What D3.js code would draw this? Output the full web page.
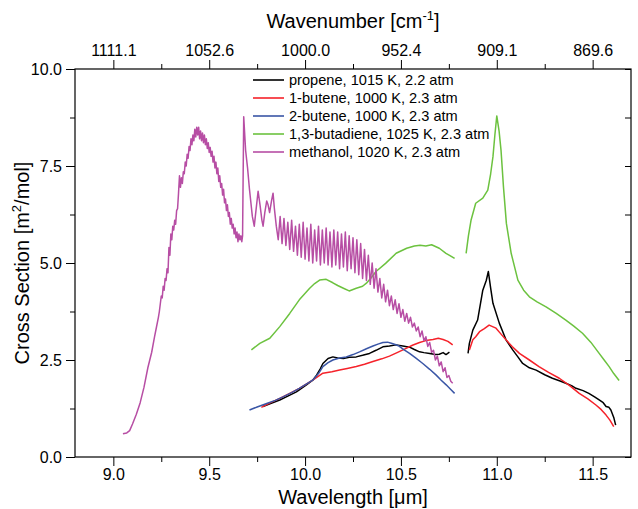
<!DOCTYPE html>
<html>
<head>
<meta charset="utf-8">
<script src="https://cdn.jsdelivr.net/npm/d3@7"></script>
<style>
  body { margin: 0; background: #fff; }
  text { font-family: "Liberation Sans", Arial, sans-serif; fill: #000; }
</style>
</head>
<body>
<div id="chart"></div>
<script>
// wavelength [um], cross section [m2/mol]
var propene = [
  [9.78,1.30],[9.82,1.38],[9.868,1.47],[9.91,1.57],[9.955,1.68],[10.007,1.86],[10.04,1.98],[10.06,2.11],
  [10.08,2.28],[10.093,2.41],[10.12,2.54],[10.145,2.58],[10.17,2.55],[10.2,2.54],[10.23,2.57],[10.267,2.58],
  [10.30,2.62],[10.336,2.67],[10.37,2.75],[10.406,2.84],[10.44,2.86],[10.475,2.89],[10.51,2.86],[10.545,2.83],
  [10.57,2.77],[10.597,2.71],[10.62,2.69],[10.65,2.67],[10.68,2.64],[10.70,2.65],[10.72,2.69],[10.735,2.64],[10.753,2.70]
];
var propeneB = [
  [10.85,2.67],[10.857,2.93],[10.875,3.27],[10.90,3.53],[10.927,4.30],[10.945,4.55],[10.956,4.78],[10.968,4.35],
  [10.98,3.96],[11.013,3.45],[11.048,3.02],[11.083,2.76],[11.11,2.58],[11.135,2.41],[11.17,2.30],[11.205,2.24],
  [11.25,2.12],[11.29,2.03],[11.33,1.96],[11.36,1.90],[11.39,1.84],[11.413,1.77],[11.45,1.71],[11.48,1.64],
  [11.51,1.55],[11.534,1.47],[11.555,1.40],[11.57,1.30],[11.585,1.28],[11.595,1.21],[11.61,1.02],[11.62,0.82]
];
var butene1 = [
  [9.772,1.28],[9.82,1.40],[9.868,1.51],[9.92,1.64],[9.97,1.77],[10.04,1.98],[10.093,2.16],[10.14,2.20],
  [10.18,2.24],[10.22,2.28],[10.267,2.33],[10.31,2.39],[10.354,2.46],[10.40,2.53],[10.44,2.60],[10.48,2.69],
  [10.527,2.80],[10.56,2.88],[10.597,2.95],[10.63,3.00],[10.667,3.03],[10.695,3.06],[10.72,3.03],[10.745,2.98],[10.77,2.89]
];
var butene1B = [
  [10.857,2.76],[10.875,3.02],[10.89,3.10],[10.91,3.23],[10.935,3.31],[10.96,3.40],[10.996,3.32],[11.02,3.18],
  [11.048,3.02],[11.08,2.85],[11.118,2.67],[11.17,2.50],[11.22,2.33],[11.27,2.18],[11.326,2.03],[11.38,1.84],
  [11.43,1.64],[11.475,1.50],[11.517,1.34],[11.545,1.22],[11.57,1.08],[11.59,0.95],[11.61,0.78]
];
var butene2 = [
  [9.71,1.21],[9.75,1.29],[9.80,1.38],[9.845,1.46],[9.885,1.55],[9.93,1.66],[9.97,1.77],[10.04,1.98],
  [10.07,2.15],[10.093,2.33],[10.12,2.43],[10.145,2.50],[10.18,2.55],[10.215,2.58],[10.25,2.64],[10.284,2.71],
  [10.32,2.79],[10.354,2.86],[10.38,2.91],[10.406,2.95],[10.43,2.96],[10.45,2.93],[10.47,2.90],[10.49,2.86],
  [10.515,2.77],[10.545,2.67],[10.58,2.54],[10.614,2.41],[10.65,2.26],[10.684,2.11],[10.71,1.98],[10.736,1.86],
  [10.76,1.74],[10.78,1.64]
];
var butadiene = [
  [9.72,2.76],[9.764,2.93],[9.816,3.06],[9.868,3.36],[9.92,3.70],[9.97,4.05],[10.024,4.35],[10.05,4.47],
  [10.076,4.56],[10.11,4.58],[10.145,4.49],[10.17,4.42],[10.20,4.35],[10.23,4.28],[10.267,4.35],[10.30,4.40],
  [10.32,4.48],[10.345,4.62],[10.37,4.78],[10.42,4.99],[10.475,5.25],[10.53,5.38],[10.57,5.44],[10.60,5.46],
  [10.63,5.44],[10.66,5.47],[10.70,5.38],[10.735,5.25],[10.78,5.12]
];
var butadieneB = [
  [10.84,5.25],[10.852,5.70],[10.866,6.11],[10.89,6.54],[10.927,6.67],[10.953,6.88],[10.968,7.30],[10.98,7.74],
  [10.99,8.30],[11.0,8.79],[11.012,8.40],[11.022,7.91],[11.035,6.95],[11.05,6.02],[11.075,5.25],[11.11,4.56],
  [11.14,4.30],[11.17,4.13],[11.21,4.00],[11.257,3.87],[11.31,3.70],[11.36,3.53],[11.40,3.38],[11.447,3.19],
  [11.49,2.96],[11.534,2.67],[11.56,2.50],[11.586,2.33],[11.61,2.15],[11.638,1.97]
];
var methanol = [
  [9.05,0.6],[9.07,0.62],[9.085,0.68],[9.10,0.85],[9.12,1.1],[9.14,1.4],[9.16,1.8],[9.18,2.3],[9.20,2.7],
  [9.215,3.1],[9.225,3.35],[9.235,3.6],[9.24,3.75],[9.245,3.95],[9.25,4.15],[9.255,4.1],[9.26,4.4],[9.265,4.3],
  [9.27,4.6],[9.275,4.55],[9.28,4.85],[9.285,4.75],[9.29,5.4],[9.295,5.2],[9.30,5.75],[9.305,5.6],[9.31,5.95],
  [9.315,5.85],[9.32,6.1],[9.325,6.0],[9.33,6.35],[9.335,6.4],[9.34,6.8],[9.345,7.25],[9.35,6.95],[9.355,7.2],
  [9.36,7.05],[9.365,7.35],[9.37,7.3],[9.375,7.6],[9.38,7.5],[9.385,7.8],[9.39,7.7],[9.395,8.0],[9.40,7.9],
  [9.405,8.2],[9.41,8.05],[9.415,8.3],[9.42,8.15],[9.425,8.45],[9.43,8.25],[9.435,8.5],[9.44,8.3],[9.445,8.5],
  [9.45,8.2],[9.455,8.4],[9.46,8.15],[9.465,8.35],[9.47,8.1],[9.475,8.3],[9.48,8.05],[9.485,8.2],[9.49,7.95],
  [9.495,8.1],[9.50,7.85],[9.505,7.98],[9.51,7.75],[9.515,7.88],[9.52,7.6],[9.525,7.75],[9.53,7.45],[9.535,7.6],
  [9.54,7.3],[9.545,7.45],[9.55,7.1],[9.555,7.25],[9.56,6.95],[9.565,7.05],[9.57,6.75],[9.575,6.9],[9.58,6.55],
  [9.585,6.65],[9.59,6.35],[9.595,6.5],[9.60,6.2],[9.605,6.3],[9.61,6.0],[9.615,6.15],[9.62,5.9],[9.625,6.0],
  [9.63,5.75],[9.635,5.9],[9.64,5.65],[9.645,5.8],[9.65,5.55],[9.655,5.75],[9.66,5.6],[9.665,5.7],[9.67,5.55],
  [9.674,5.7],[9.68,8.77],[9.69,7.9],[9.70,7.45],[9.71,6.9],[9.725,6.2],[9.735,5.95],[9.745,6.4],[9.755,6.85],
  [9.765,6.5],[9.775,6.1],[9.781,5.95],[9.79,6.3],[9.80,6.6],[9.807,6.5],[9.815,6.3],[9.825,6.6],[9.833,6.8],
  [9.84,6.4],[9.85,5.95],
  [9.86,5.6],[9.87,6.2],[9.88,5.5],[9.89,6.15],[9.90,5.45],[9.91,6.05],[9.92,5.35],[9.93,6.1],[9.94,5.3],
  [9.95,5.95],[9.96,5.2],[9.97,6.0],[9.98,5.15],[9.99,6.05],[10.00,5.1],[10.01,5.9],[10.02,5.05],[10.03,6.0],
  [10.04,5.0],[10.05,5.85],[10.06,5.05],[10.07,5.95],[10.08,4.95],[10.09,5.85],[10.10,5.0],[10.11,5.9],
  [10.12,4.95],[10.13,5.8],[10.14,4.9],[10.15,5.85],[10.16,4.95],[10.17,5.8],[10.18,4.85],[10.19,5.75],
  [10.20,4.9],[10.21,5.8],[10.22,4.8],[10.23,5.7],[10.24,4.85],[10.25,5.65],[10.26,4.75],[10.27,5.6],
  [10.28,4.7],[10.29,5.5],[10.30,4.6],[10.31,5.35],[10.32,4.55],[10.33,5.2],[10.34,4.45],[10.35,5.0],
  [10.36,4.35],[10.37,4.85],[10.38,4.25],[10.39,4.6],[10.40,4.1],[10.41,4.45],[10.42,4.0],[10.43,4.3],
  [10.44,3.9],[10.45,4.15],[10.46,3.8],[10.47,4.05],[10.48,3.7],[10.49,3.95],[10.50,3.6],[10.51,3.8],
  [10.52,3.5],[10.53,3.7],[10.54,3.45],[10.55,3.6],[10.56,3.35],[10.57,3.45],[10.58,3.25],[10.59,3.35],
  [10.60,3.1],[10.61,3.25],[10.62,3.0],[10.63,3.1],[10.64,2.85],[10.65,2.95],[10.66,2.7],[10.67,2.75],
  [10.68,2.5],[10.69,2.6],[10.70,2.35],[10.71,2.45],[10.72,2.2],[10.73,2.3],[10.74,2.05],[10.75,2.1],
  [10.76,1.95],[10.77,1.9]
];

var legendNames = ["propene, 1015 K, 2.2 atm", "1-butene, 1000 K, 2.3 atm", "2-butene, 1000 K, 2.3 atm",
                   "1,3-butadiene, 1025 K, 2.3 atm", "methanol, 1020 K, 2.3 atm"];
var colors = ["#000000", "#f5222a", "#3a56a6", "#6cc23f", "#b74ea4"];
var seriesData = [[propene, propeneB], [butene1, butene1B], [butene2], [butadiene, butadieneB], [methanol]];

var xTicks = [9.0, 9.5, 10.0, 10.5, 11.0, 11.5];
var xMinor = [9.25, 9.75, 10.25, 10.75, 11.25];
var yTicks = [0, 2.5, 5.0, 7.5, 10.0];
var yMinor = [1.25, 3.75, 6.25, 8.75];

var margin = {top: 69, right: 7, bottom: 52, left: 75},
    width = 638 - margin.left - margin.right,
    height = 509 - margin.top - margin.bottom;

var svg = d3.select("#chart")
  .append("svg")
    .attr("width", 638)
    .attr("height", 509)
  .append("g")
    .attr("transform", "translate(" + margin.left + "," + margin.top + ")");

var x = d3.scaleLinear().domain([8.8, 11.7]).range([0, width]);
var y = d3.scaleLinear().domain([0, 10]).range([height, 0]);

// axes: major ticks with labels, then minor ticks
function styleAxis(g) {
  g.selectAll(".domain").remove();
  g.selectAll("line").attr("stroke", "#000").attr("stroke-width", 1);
  g.selectAll("text").attr("font-size", "16px").attr("font-family", "Liberation Sans, Arial, sans-serif");
}

svg.append("g")
  .attr("transform", "translate(0," + height + ")")
  .call(d3.axisBottom(x).tickValues(xTicks).tickFormat(d3.format(".1f")).tickSize(9).tickPadding(3))
  .call(styleAxis);
svg.append("g")
  .attr("transform", "translate(0," + height + ")")
  .call(d3.axisBottom(x).tickValues(xMinor).tickFormat("").tickSize(5))
  .call(styleAxis);

svg.append("g")
  .call(d3.axisTop(x).tickValues(xTicks).tickFormat(function(d) { return (1e4 / d).toFixed(1); }).tickSize(9).tickPadding(4))
  .call(styleAxis);
svg.append("g")
  .call(d3.axisTop(x).tickValues(xMinor).tickFormat("").tickSize(5))
  .call(styleAxis);

svg.append("g")
  .call(d3.axisLeft(y).tickValues(yTicks).tickFormat(d3.format(".1f")).tickSize(9).tickPadding(4))
  .call(styleAxis);
svg.append("g")
  .call(d3.axisLeft(y).tickValues(yMinor).tickFormat("").tickSize(5))
  .call(styleAxis);

svg.append("g")
  .attr("transform", "translate(" + width + ",0)")
  .call(d3.axisLeft(y).tickValues(yTicks.concat(yMinor)).tickFormat("").tickSize(-6))
  .call(styleAxis)
  .selectAll("line").attr("x2", -6);

// frame
svg.append("rect")
  .attr("width", width).attr("height", height)
  .attr("fill", "none").attr("stroke", "#000").attr("stroke-width", 1.2);

// curves
var line = d3.line()
  .x(function(d) { return x(d[0]); })
  .y(function(d) { return y(d[1]); });

seriesData.forEach(function(parts, i) {
  parts.forEach(function(p) {
    svg.append("path")
      .datum(p)
      .attr("fill", "none")
      .attr("stroke", colors[i])
      .attr("stroke-width", 1.5)
      .attr("stroke-linejoin", "round")
      .attr("d", line);
  });
});

// legend
var legend = svg.append("g").attr("transform", "translate(" + (253 - margin.left) + "," + (80 - margin.top) + ")");
legendNames.forEach(function(name, i) {
  legend.append("line")
    .attr("x1", 0).attr("x2", 31)
    .attr("y1", i * 18).attr("y2", i * 18)
    .attr("stroke", colors[i]).attr("stroke-width", 1.6);
  legend.append("text")
    .attr("x", 36).attr("y", i * 18 + 5)
    .attr("font-size", "14.6px")
    .text(name);
});

// axis titles
svg.append("text")
  .attr("x", width / 2).attr("y", height + 47)
  .attr("text-anchor", "middle").attr("font-size", "20px")
  .text("Wavelength [\u03bcm]");

var topTitle = svg.append("text")
  .attr("x", width / 2).attr("y", -41)
  .attr("text-anchor", "middle").attr("font-size", "20px");
topTitle.append("tspan").text("Wavenumber [cm");
topTitle.append("tspan").attr("dy", -8).attr("font-size", "13px").text("-1");
topTitle.append("tspan").attr("dy", 8).text("]");

var yTitle = svg.append("text")
  .attr("transform", "translate(-46," + (height / 2) + ") rotate(-90)")
  .attr("text-anchor", "middle").attr("font-size", "20px");
yTitle.append("tspan").text("Cross Section [m");
yTitle.append("tspan").attr("dy", -8).attr("font-size", "13px").text("2");
yTitle.append("tspan").attr("dy", 8).text("/mol]");
</script>
</body>
</html>
